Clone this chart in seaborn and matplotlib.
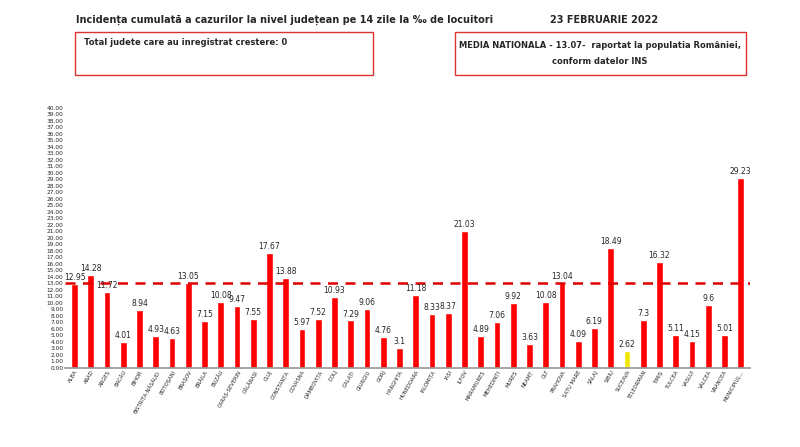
import matplotlib
matplotlib.use("Agg")
import matplotlib.pyplot as plt
import pandas as pd
import seaborn as sns
from matplotlib.patches import Rectangle

judete = ["ALBA", "ARAD", "ARGEȘ", "BACĂU", "BIHOR", "BISTRIȚA-NĂSĂUD", "BOTOȘANI",
          "BRAȘOV", "BRĂILA", "BUZĂU", "CARAȘ-SEVERIN", "CĂLĂRAȘI", "CLUJ", "CONSTANȚA",
          "COVASNA", "DÂMBOVIȚA", "DOLJ", "GALAȚI", "GIURGIU", "GORJ", "HARGHITA",
          "HUNEDOARA", "IALOMIȚA", "IAȘI", "ILFOV", "MARAMUREȘ", "MEHEDINȚI", "MUREȘ",
          "NEAMȚ", "OLT", "PRAHOVA", "SATU MARE", "SĂLAJ", "SIBIU", "SUCEAVA",
          "TELEORMAN", "TIMIȘ", "TULCEA", "VASLUI", "VÂLCEA", "VRANCEA", "MUNICIPIUL..."]
incidenta = [12.95, 14.28, 11.72, 4.01, 8.94, 4.93, 4.63, 13.05, 7.15, 10.08, 9.47, 7.55,
             17.67, 13.88, 5.97, 7.52, 10.93, 7.29, 9.06, 4.76, 3.1, 11.18, 8.33, 8.37,
             21.03, 4.89, 7.06, 9.92, 3.63, 10.08, 13.04, 4.09, 6.19, 18.49, 2.62, 7.3,
             16.32, 5.11, 4.15, 9.6, 5.01, 29.23]
etichete = ["12.95", "14.28", "11.72", "4.01", "8.94", "4.93", "4.63", "13.05", "7.15",
            "10.08", "9.47", "7.55", "17.67", "13.88", "5.97", "7.52", "10.93", "7.29",
            "9.06", "4.76", "3.1", "11.18", "8.33", "8.37", "21.03", "4.89", "7.06", "9.92",
            "3.63", "10.08", "13.04", "4.09", "6.19", "18.49", "2.62", "7.3", "16.32",
            "5.11", "4.15", "9.6", "5.01", "29.23"]
media_nationala = 13.07

df = pd.DataFrame({"judet": judete, "valoare": incidenta})
culori = ["#f2e600" if j == "SUCEAVA" else "#ff0000" for j in judete]

sns.set_theme(style="white")
fig = plt.figure(figsize=(8, 4.47), dpi=100)
ax = fig.add_axes([0.081, 0.177, 0.857, 0.582])
sns.barplot(data=df, x="judet", y="valoare", hue="judet", palette=culori,
            legend=False, dodge=False, width=0.42, saturation=1, ax=ax)
ax.axhline(media_nationala, color="#e00000", lw=1.8, ls=(0, (4, 3)))
for i, t in enumerate(etichete):
    ax.text(i, incidenta[i] + 0.3, t, ha="center", va="bottom", fontsize=5.5)

ax.set_ylim(0, 40)
ax.set_yticks(range(0, 41))
ax.set_yticklabels([f"{v:.2f}" for v in range(0, 41)], fontsize=4.2)
ax.set_xticks(range(len(judete)))
ax.set_xticklabels(judete, rotation=60, ha="right", fontsize=3.8, rotation_mode="anchor")
ax.set_xlabel("")
ax.set_ylabel("")
ax.tick_params(axis="both", length=0, pad=1)
for s in ["top", "right", "left"]:
    ax.spines[s].set_visible(False)
ax.spines["bottom"].set_color("#999999")
ax.set_xlim(-0.6, len(judete) - 0.4)

fig.text(0.095, 0.955, "Incidența cumulată a cazurilor la nivel județean pe 14 zile la ‰ de locuitori",
         fontsize=7, fontweight="bold", va="center")
fig.text(0.755, 0.955, "23 FEBRUARIE 2022", fontsize=7, fontweight="bold", ha="center", va="center")
fig.patches.append(Rectangle((0.094, 0.832), 0.372, 0.096, transform=fig.transFigure,
                             fill=False, ec="#e03030", lw=1))
fig.patches.append(Rectangle((0.569, 0.832), 0.363, 0.096, transform=fig.transFigure,
                             fill=False, ec="#e03030", lw=1))
fig.text(0.105, 0.905, "Total judete care au inregistrat crestere: 0", fontsize=6,
         fontweight="bold", va="center")
fig.text(0.75, 0.898, "MEDIA NATIONALA - 13.07-  raportat la populatia României,",
         fontsize=6, fontweight="bold", ha="center", va="center")
fig.text(0.75, 0.862, "conform datelor INS", fontsize=6, fontweight="bold",
         ha="center", va="center")

fig.savefig("out.png", dpi=100)
